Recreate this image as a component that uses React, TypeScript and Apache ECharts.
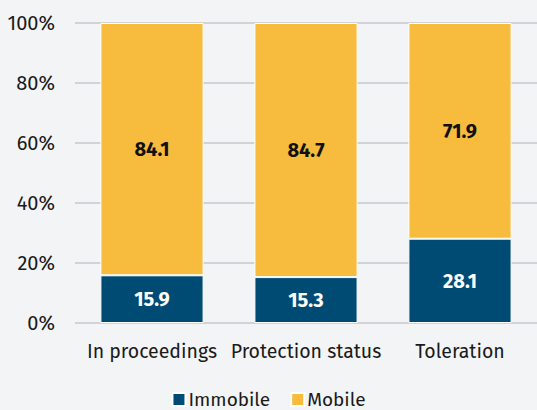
import React, { useEffect, useRef } from "react";
import * as echarts from "echarts";

const categories = ["In proceedings", "Protection status", "Toleration"];
const immobile = [15.9, 15.3, 28.1];
const mobile = [84.1, 84.7, 71.9];
const yTicks = [0, 20, 40, 60, 80, 100];

const FONT = "'Fira Sans', 'Noto Sans', 'Open Sans', sans-serif";

export default function App() {
  const ref = useRef<HTMLDivElement>(null);
  useEffect(() => {
    document.body.style.margin = "0";
    const chart = echarts.init(ref.current!, null, { renderer: "svg" });
    chart.setOption({
      animation: false,
      backgroundColor: "#f3f4f6",
      textStyle: { fontFamily: FONT },
      grid: { left: 75, right: -3, top: 23, bottom: 87 },
      legend: {
        top: 385,
        left: "center",
        itemWidth: 13,
        itemHeight: 13,
        itemGap: 20,
        icon: "rect",
        textStyle: { fontSize: 19, color: "#1a1a1a", fontFamily: FONT, padding: [0, 0, 0, -2] },
        data: ["Immobile", "Mobile"],
      },
      xAxis: {
        type: "category",
        data: categories,
        axisLine: { show: false },
        axisTick: { show: false },
        axisLabel: { fontSize: 19.5, color: "#1a1a1a", margin: 18, fontFamily: FONT, interval: 0 },
      },
      yAxis: {
        type: "value",
        min: 0,
        max: 100,
        interval: 20,
        axisLine: { show: false },
        axisTick: { show: false },
        axisLabel: {
          fontSize: 20,
          color: "#1a1a1a",
          margin: 20,
          fontFamily: FONT,
          formatter: (v: number) => (yTicks.includes(v) ? v + "%" : ""),
        },
        splitLine: { lineStyle: { color: "#c8c9cc", width: 1.5 } },
      },
      series: [
        {
          name: "Immobile",
          type: "bar",
          stack: "total",
          barWidth: "67%",
          data: immobile,
          itemStyle: { color: "#004b74", borderColor: "#ffffff", borderWidth: 1 },
          label: {
            show: true,
            position: "inside",
            color: "#ffffff",
            fontWeight: "bold",
            fontSize: 20,
            fontFamily: FONT,
            formatter: (p: any) => p.value.toFixed(1),
          },
        },
        {
          name: "Mobile",
          type: "bar",
          stack: "total",
          barWidth: "67%",
          data: mobile,
          itemStyle: { color: "#f7bb3e", borderColor: "#ffffff", borderWidth: 1 },
          label: {
            show: true,
            position: "inside",
            color: "#111111",
            fontWeight: "bold",
            fontSize: 20,
            fontFamily: FONT,
            formatter: (p: any) => p.value.toFixed(1),
          },
        },
      ],
    });
    return () => chart.dispose();
  }, []);
  return <div ref={ref} style={{ width: 537, height: 410, position: "absolute", left: 0, top: 0 }} />;
}
